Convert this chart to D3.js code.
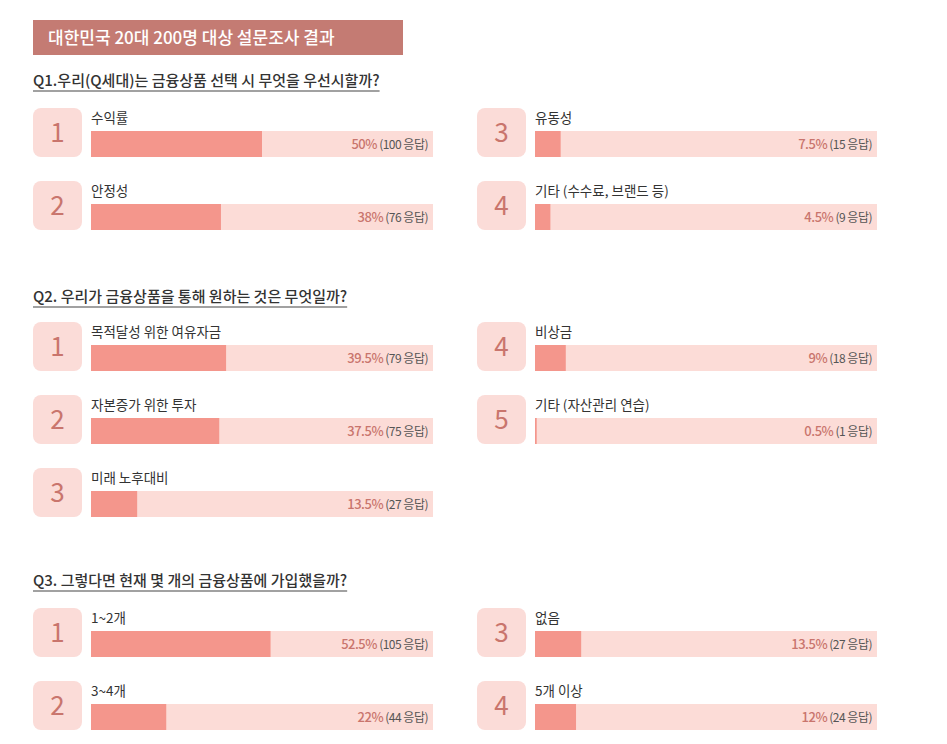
<!DOCTYPE html>
<html><head><meta charset="utf-8">
<script src="https://cdn.jsdelivr.net/npm/d3@7"></script>
<style>body{margin:0;background:#fff}</style></head>
<body><svg id="c" width="947" height="744"></svg>
<script>
const title = "대한민국 20대 200명 대상 설문조사 결과";
const questions = ["Q1.우리(Q세대)는 금융상품 선택 시 무엇을 우선시할까?", "Q2. 우리가 금융상품을 통해 원하는 것은 무엇일까?", "Q3. 그렇다면 현재 몇 개의 금융상품에 가입했을까?"];
const q1Labels = ["수익률", "안정성", "유동성", "기타 (수수료, 브랜드 등)"];
const q1Pct = [50, 38, 7.5, 4.5];
const q1Count = [100, 76, 15, 9];
const q2Labels = ["목적달성 위한 여유자금", "자본증가 위한 투자", "미래 노후대비", "비상금", "기타 (자산관리 연습)"];
const q2Pct = [39.5, 37.5, 13.5, 9, 0.5];
const q2Count = [79, 75, 27, 18, 1];
const q3Labels = ["1~2개", "3~4개", "없음", "5개 이상"];
const q3Pct = [52.5, 22, 13.5, 12];
const q3Count = [105, 44, 27, 24];

const svg = d3.select("#c");
const F = "'Noto Sans CJK KR','Noto Sans',sans-serif";
svg.append("rect").attr("x",33).attr("y",20).attr("width",370).attr("height",35).attr("fill","#c47b73");
svg.append("text").attr("x",48).attr("y",44).attr("fill","#fff").attr("font-family",F).attr("font-size",17).attr("font-weight",500).text(title);

const sections = [
  {labels:q1Labels,pct:q1Pct,cnt:q1Count,head:78,rows:[[0,108],[0,181],[1,108],[1,181]]},
  {labels:q2Labels,pct:q2Pct,cnt:q2Count,head:294,rows:[[0,322],[0,395],[0,468],[1,322],[1,395]]},
  {labels:q3Labels,pct:q3Pct,cnt:q3Count,head:578,rows:[[0,608],[0,681],[1,608],[1,681]]}
];
const cols=[{badge:33,bar:91},{badge:477,bar:535}];
const barW=342;
const x=d3.scaleLinear().domain([0,100]).range([0,barW]);
const nums=[[1,2,3,4],[1,2,3,4,5],[1,2,3,4]];
sections.forEach((s,si)=>{
  const t=svg.append("text").attr("x",33).attr("y",s.head+8).attr("font-family",F).attr("font-size",15).attr("font-weight",500).attr("fill","#333").text(questions[si]);
  const w=t.node().getComputedTextLength();
  svg.append("line").attr("x1",33).attr("x2",33+w).attr("y1",s.head+13).attr("y2",s.head+13).attr("stroke","#444").attr("stroke-width",1.2);
  s.rows.forEach(([c,y],i)=>{
    const col=cols[c];
    const g=svg.append("g");
    g.append("rect").attr("x",col.badge).attr("y",y).attr("width",49).attr("height",49).attr("rx",8).attr("fill","#fbdcd8");
    g.append("text").attr("x",col.badge+24.5).attr("y",y+34).attr("text-anchor","middle").attr("font-family",F).attr("font-size",26).attr("fill","#c9756d").text(nums[si][i]);
    g.append("text").attr("x",col.bar).attr("y",y+15).attr("font-family",F).attr("font-size",13.5).attr("fill","#333").text(s.labels[i]);
    g.append("rect").attr("x",col.bar).attr("y",y+23).attr("width",barW).attr("height",26).attr("fill","#fcdcd7");
    g.append("rect").attr("x",col.bar).attr("y",y+23).attr("width",x(s.pct[i])).attr("height",26).attr("fill","#f4968c");
    const lt=g.append("text").attr("x",col.bar+barW-5).attr("y",y+41).attr("text-anchor","end").attr("font-family",F).attr("font-size",13).attr("letter-spacing",-0.5);
    lt.append("tspan").attr("fill","#c9756d").attr("font-weight",500).text(s.pct[i]+"%");
    lt.append("tspan").attr("fill","#555").attr("font-size",12).text(" ("+s.cnt[i]+" 응답)");
  });
});
</script></body></html>
